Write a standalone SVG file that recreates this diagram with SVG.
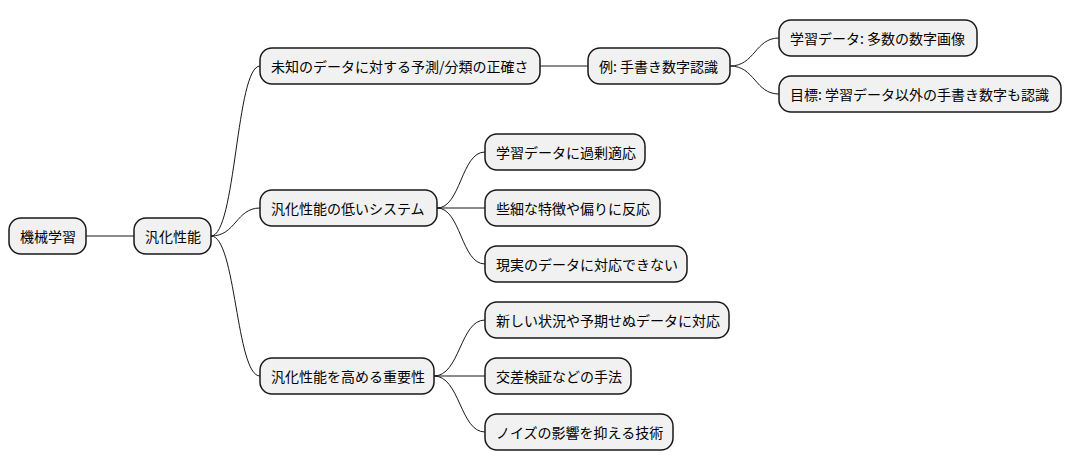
<svg xmlns="http://www.w3.org/2000/svg" width="1072" height="471" viewBox="0 0 1072 471">
<style>
.n rect{fill:#F1F1F1;stroke:#181818;stroke-width:1.5}
.n text{font-family:"Noto Sans CJK JP","Noto Sans",sans-serif;font-size:14px;fill:#000;dominant-baseline:central}
#c path{fill:none;stroke:#181818;stroke-width:1}
</style>
<rect width="1072" height="471" fill="#fff"/>
<g id="c">
<path d="M86,236 H134"/>
<path d="M211,236 C236,236 236,66 260,66"/>
<path d="M211,236 C236,236 236,208 260,208"/>
<path d="M211,236 C236,236 236,376 260,376"/>
<path d="M540,66 H588"/>
<path d="M730,66 C755,66 755,38 779,38"/>
<path d="M730,66 C755,66 755,94 779,94"/>
<path d="M437,208 C461,208 461,152 485,152"/>
<path d="M437,208 H485"/>
<path d="M437,208 C461,208 461,264 485,264"/>
<path d="M434,376 C460,376 460,320 485,320"/>
<path d="M434,376 H485"/>
<path d="M434,376 C460,376 460,432 485,432"/>
</g>
<g id="n1" class="n"><rect x="9" y="218" width="77" height="36" rx="12"/><text x="20" y="236">機械学習</text></g>
<g id="n2" class="n"><rect x="134" y="218" width="77" height="36" rx="12"/><text x="145" y="236">汎化性能</text></g>
<g id="n3" class="n"><rect x="260" y="48" width="280" height="36" rx="12"/><text x="271" y="66">未知のデータに対する予測/分類の正確さ</text></g>
<g id="n4" class="n"><rect x="588" y="48" width="142" height="36" rx="12"/><text x="599" y="66">例: 手書き数字認識</text></g>
<g id="n5" class="n"><rect x="779" y="20" width="198" height="36" rx="12"/><text x="790" y="38">学習データ: 多数の数字画像</text></g>
<g id="n6" class="n"><rect x="779" y="76" width="282" height="36" rx="12"/><text x="790" y="94">目標: 学習データ以外の手書き数字も認識</text></g>
<g id="n7" class="n"><rect x="260" y="190" width="177" height="36" rx="12"/><text x="271" y="208">汎化性能の低いシステム</text></g>
<g id="n8" class="n"><rect x="485" y="134" width="160" height="36" rx="12"/><text x="496" y="152">学習データに過剰適応</text></g>
<g id="n9" class="n"><rect x="485" y="190" width="175" height="36" rx="12"/><text x="496" y="208">些細な特徴や偏りに反応</text></g>
<g id="n10" class="n"><rect x="485" y="246" width="202" height="36" rx="12"/><text x="496" y="264">現実のデータに対応できない</text></g>
<g id="n11" class="n"><rect x="260" y="358" width="174" height="36" rx="12"/><text x="271" y="376">汎化性能を高める重要性</text></g>
<g id="n12" class="n"><rect x="485" y="302" width="244" height="36" rx="12"/><text x="496" y="320">新しい状況や予期せぬデータに対応</text></g>
<g id="n13" class="n"><rect x="485" y="358" width="146" height="36" rx="12"/><text x="496" y="376">交差検証などの手法</text></g>
<g id="n14" class="n"><rect x="485" y="414" width="188" height="36" rx="12"/><text x="496" y="432">ノイズの影響を抑える技術</text></g>
</svg>
